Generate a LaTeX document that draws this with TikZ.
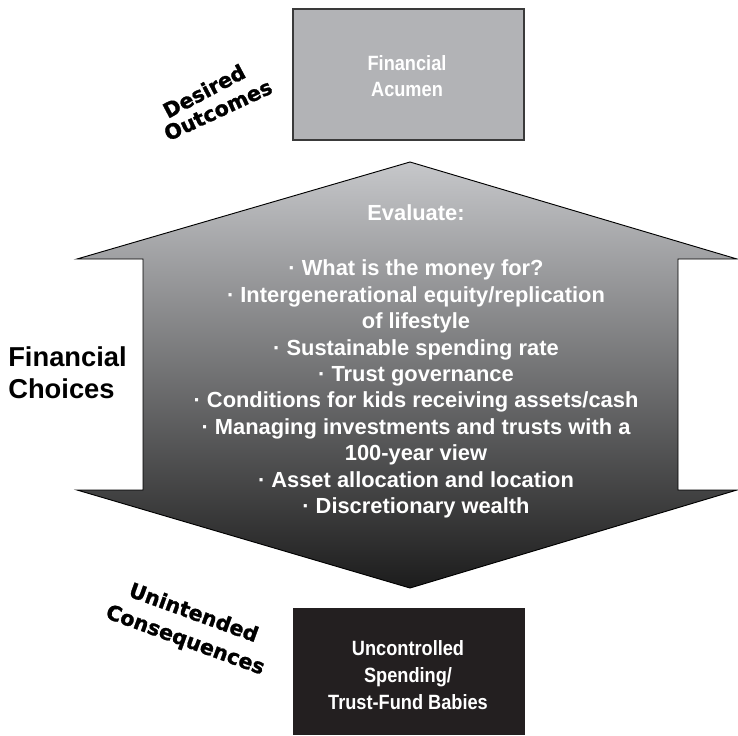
\documentclass[tikz,border=0pt]{standalone}
\usepackage{fontspec}
\setmainfont{Liberation Sans}
\newfontfamily\narrowbold{Liberation Sans Bold}[FakeStretch=0.88]
\newfontfamily\heavysans{DejaVu Sans Bold}[FakeBold=1.2]
\definecolor{acumen}{HTML}{B2B3B6}
\definecolor{boxedge}{HTML}{3A3A3A}
\definecolor{spending}{HTML}{231F20}
\definecolor{toplight}{HTML}{C6C7CA}
\definecolor{bottomdark}{HTML}{1C1C1C}
\tikzset{
  outcomebox/.style={draw=boxedge, line width=1.2pt, fill=acumen},
  spendbox/.style={fill=spending},
  boxlabel/.style={text=white, align=center, font={\narrowbold\fontsize{15.5pt}{20pt}\selectfont}},
  listlabel/.style={text=white, align=center, font={\bfseries\fontsize{16.4pt}{19.8pt}\selectfont}},
  sidelabel/.style={text=black, align=left, anchor=west, inner sep=0pt, font={\bfseries\fontsize{20.5pt}{24pt}\selectfont}},
  tiltlabel/.style={text=black, inner sep=0pt, font={\heavysans\fontsize{15.5pt}{17pt}\selectfont}},
}
\begin{document}
\begin{tikzpicture}[x=0.75pt, y=-0.75pt]
  \useasboundingbox (0,0) rectangle (738,735);

  % double-headed block arrow
  \coordinate (apex)  at (410,162);
  \coordinate (rtip)  at (737,259);
  \coordinate (rin1)  at (678,259);
  \coordinate (rin2)  at (678,490);
  \coordinate (rtip2) at (737,490);
  \coordinate (base)  at (410,588);
  \coordinate (ltip2) at (77,490);
  \coordinate (lin2)  at (143,490);
  \coordinate (lin1)  at (143,259);
  \coordinate (ltip)  at (77,259);
  \shade[top color=toplight, bottom color=bottomdark]
    (apex) -- (rtip) -- (rin1) -- (rin2) -- (rtip2) -- (base)
    -- (ltip2) -- (lin2) -- (lin1) -- (ltip) -- cycle;
  \draw[black, line width=0.7pt, line join=miter]
    (apex) -- (rtip) -- (rin1) -- (rin2) -- (rtip2) -- (base)
    -- (ltip2) -- (lin2) -- (lin1) -- (ltip) -- cycle;

  % boxes
  \draw[outcomebox] (293,9) rectangle (524,140);
  \node[boxlabel] (acumen) at (407,76) {Financial\\Acumen};
  \fill[spendbox] (293,608) rectangle (525,735);
  \node[boxlabel] (spend) at (408,675) {Uncontrolled\\Spending/\\Trust-Fund Babies};

  % arrow texts
  \node[listlabel] (evaluate) at (416,213) {Evaluate:};
  \node[listlabel] (items) at (416,389) {%
    · What is the money for?\\
    · Intergenerational equity/replication\\
    of lifestyle\\
    · Sustainable spending rate\\
    · Trust governance\\
    · Conditions for kids receiving assets/cash\\
    · Managing investments and trusts with a\\
    100-year view\\
    · Asset allocation and location\\
    · Discretionary wealth};

  \node[sidelabel] (choices) at (8,373) {Financial\\Choices};

  % tilted captions
  \node[tiltlabel, rotate=28] (desired) at (204,91) {Desired};
  \node[tiltlabel, rotate=25] (outcomes) at (218,110) {Outcomes};
  \node[tiltlabel, rotate=-20] (unintended) at (194,612) {Unintended};
  \node[tiltlabel, rotate=-20] (consequences) at (185,641) {Consequences};
\end{tikzpicture}
\end{document}
